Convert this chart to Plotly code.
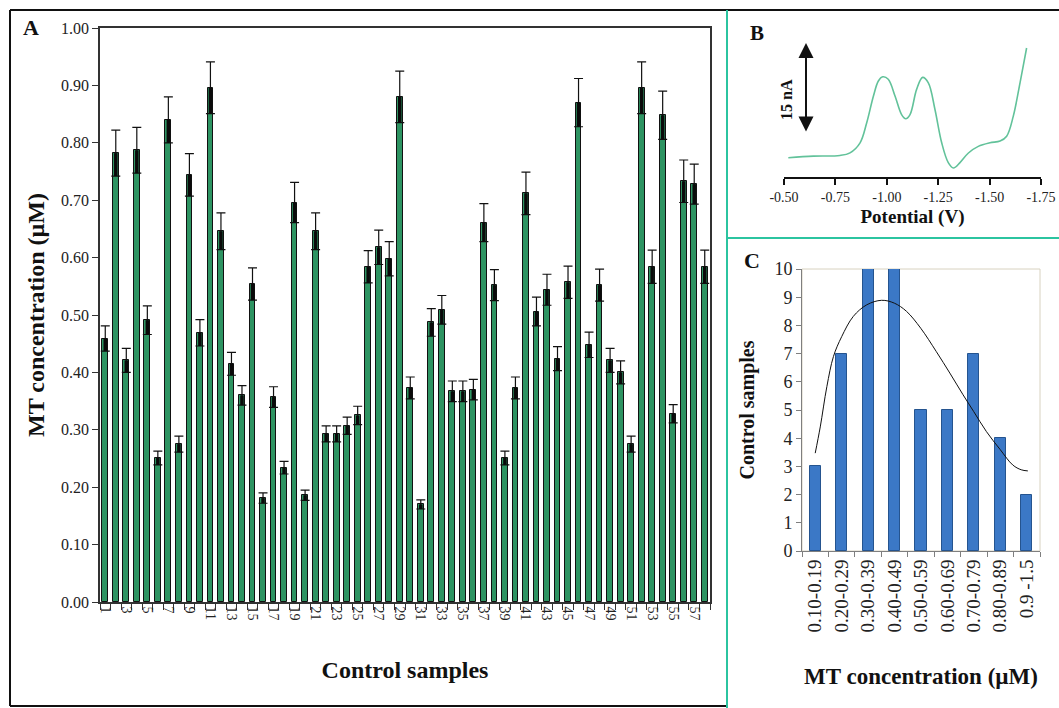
import plotly.graph_objects as go

# ---------------- Panel A data ----------------
sample_ids = list(range(1, 59))
mt_values = [0.459, 0.782, 0.421, 0.787, 0.491, 0.251, 0.840, 0.275, 0.744, 0.469,
             0.896, 0.646, 0.415, 0.360, 0.554, 0.181, 0.357, 0.234, 0.696, 0.186,
             0.646, 0.293, 0.293, 0.307, 0.325, 0.584, 0.618, 0.598, 0.880, 0.373,
             0.170, 0.487, 0.509, 0.367, 0.367, 0.370, 0.661, 0.552, 0.251, 0.373,
             0.712, 0.506, 0.544, 0.424, 0.557, 0.870, 0.448, 0.552, 0.421, 0.400,
             0.275, 0.896, 0.584, 0.848, 0.328, 0.733, 0.728, 0.584]
mt_errors = [0.022, 0.040, 0.021, 0.040, 0.025, 0.012, 0.040, 0.014, 0.037, 0.023,
             0.045, 0.032, 0.020, 0.017, 0.028, 0.009, 0.018, 0.011, 0.035, 0.009,
             0.032, 0.014, 0.014, 0.015, 0.016, 0.028, 0.030, 0.030, 0.045, 0.019,
             0.008, 0.024, 0.025, 0.018, 0.018, 0.018, 0.033, 0.027, 0.012, 0.019,
             0.037, 0.025, 0.027, 0.021, 0.028, 0.042, 0.022, 0.028, 0.021, 0.020,
             0.014, 0.045, 0.029, 0.042, 0.016, 0.037, 0.035, 0.029]
a_yticks = [0.0, 0.1, 0.2, 0.3, 0.4, 0.5, 0.6, 0.7, 0.8, 0.9, 1.0]

# ---------------- Panel B data (DPV curve) ----------------
potential = [-0.521, -0.643, -0.772, -0.821, -0.870, -0.902, -0.935, -0.959, -0.980,
             -1.007, -1.040, -1.072, -1.092, -1.113, -1.145, -1.174, -1.202, -1.234,
             -1.267, -1.299, -1.324, -1.356, -1.397, -1.445, -1.502, -1.551, -1.583,
             -1.615, -1.648, -1.680]
current_na = [0.0, 0.28, 0.39, 0.83, 2.5, 5.8, 10.3, 12.8, 13.5,
              13.1, 10.3, 7.2, 6.5, 7.2, 11.4, 13.4, 12.5, 8.1,
              2.5, -0.8, -1.7, -0.8, 0.8, 1.9, 2.5, 2.8, 3.6,
              6.9, 12.5, 18.3]
b_xticks = [-0.50, -0.75, -1.00, -1.25, -1.50, -1.75]
b_xticklabels = ["-0.50", "-0.75", "-1.00", "-1.25", "-1.50", "-1.75"]

# ---------------- Panel C data (histogram) ----------------
c_bins = ["0.10-0.19", "0.20-0.29", "0.30-0.39", "0.40-0.49", "0.50-0.59",
          "0.60-0.69", "0.70-0.79", "0.80-0.89", "0.9 -1.5"]
c_counts = [3, 7, 10, 10, 5, 5, 7, 4, 2]
fit_x = [0.0, 0.19, 0.44, 0.69, 1.0, 1.44, 1.95, 2.51, 2.99, 3.45, 3.99, 4.58,
         5.09, 5.59, 5.99, 6.47, 7.0, 7.47, 7.79, 8.04]
fit_y = [3.47, 4.4, 5.83, 6.9, 7.6, 8.32, 8.73, 8.89, 8.79, 8.5, 7.9, 7.07,
         6.31, 5.54, 4.95, 4.24, 3.59, 3.05, 2.88, 2.84]

SERIF = "Liberation Serif, Times New Roman, serif"
W, H = 1059, 708


def px_x(p):
    return p / W


def px_y(p):
    return 1 - p / H


fig = go.Figure()

fig.add_trace(go.Bar(
    x=sample_ids, y=mt_values, width=0.55,
    marker=dict(color="#2e9462", line=dict(color="#111111", width=1)),
    error_y=dict(type="data", symmetric=False, array=mt_errors,
                 arrayminus=mt_errors, color="#111111", thickness=1.2, width=4.5),
    xaxis="x", yaxis="y", showlegend=False,
))
fig.add_trace(go.Scatter(
    x=sample_ids, y=mt_values, mode="markers",
    marker=dict(size=1, color="rgba(0,0,0,0)"),
    error_y=dict(type="data", symmetric=False, array=[0] * len(mt_values),
                 arrayminus=mt_errors, color="#0a0a0a", thickness=3.5, width=0),
    xaxis="x", yaxis="y", showlegend=False, hoverinfo="skip",
))

fig.add_trace(go.Scatter(
    x=potential, y=current_na, mode="lines", line=dict(color="#62c29a", width=1.6, shape="spline", smoothing=1.0),
    xaxis="x2", yaxis="y2", showlegend=False,
))

fig.add_trace(go.Bar(
    x=list(range(len(c_bins))), y=c_counts, width=0.42,
    marker=dict(color="#3b78c6", line=dict(color="#25548f", width=1)),
    xaxis="x3", yaxis="y3", showlegend=False,
))
fig.add_trace(go.Scatter(
    x=fit_x, y=fit_y, mode="lines", line=dict(color="#111111", width=1, shape="spline"),
    xaxis="x3", yaxis="y3", showlegend=False,
))

fig.update_layout(
    width=W, height=H, margin=dict(l=0, r=0, t=0, b=0, autoexpand=False),
    paper_bgcolor="white", plot_bgcolor="white",
    bargap=0,
    xaxis=dict(
        domain=[px_x(100), px_x(710)], range=[0.5, 58.5], automargin=False,
        tickmode="linear", tick0=1, dtick=2, ticks="", tickangle=90,
        tickfont=dict(family=SERIF, size=14, color="#222222"),
        showline=True, linecolor="#333333", linewidth=1.5, mirror=True,
        showgrid=False, zeroline=False, anchor="y",
        minor=dict(tick0=0.5, dtick=1, ticks="outside", ticklen=6, tickcolor="#333333", tickwidth=1),
        title=dict(text="<b>Control samples</b>", font=dict(family=SERIF, size=24, color="#111111"), standoff=42),
    ),
    yaxis=dict(
        domain=[px_y(602), px_y(28)], range=[0, 1.0], automargin=False,
        tickvals=a_yticks, tickformat=".2f", ticks="outside", ticklen=6, tickcolor="#333333",
        tickfont=dict(family=SERIF, size=16, color="#222222"),
        showline=True, linecolor="#333333", linewidth=1.5, mirror=True,
        showgrid=False, zeroline=False, anchor="x",
        title=dict(text="<b>MT concentration (µM)</b>", font=dict(family=SERIF, size=24, color="#111111"), standoff=10),
    ),
    xaxis2=dict(
        domain=[px_x(784), px_x(1041)], range=[-0.5, -1.75], automargin=False,
        tickvals=b_xticks, ticktext=b_xticklabels, ticks="outside", ticklen=6, tickwidth=1.5, tickcolor="#111111",
        tickfont=dict(family=SERIF, size=14, color="#222222"),
        showline=True, linecolor="#111111", linewidth=1.8, showgrid=False, zeroline=False, anchor="y2",
        title=dict(text="<b>Potential (V)</b>", font=dict(family=SERIF, size=19, color="#111111"), standoff=6),
    ),
    yaxis2=dict(
        domain=[px_y(177), px_y(30)], range=[-3.2, 21.3], visible=False, anchor="x2", automargin=False,
    ),
    xaxis3=dict(
        domain=[px_x(802), px_x(1040)], range=[-0.5, 8.5], automargin=False,
        tickvals=list(range(len(c_bins))), ticktext=c_bins, ticks="", tickangle=-90,
        tickfont=dict(family=SERIF, size=19, color="#222222"),
        showline=True, linecolor="#7f7f7f", linewidth=1, showgrid=False, zeroline=False, anchor="y3",
        minor=dict(tick0=0.5, dtick=1, ticks="outside", ticklen=5, tickcolor="#7f7f7f", tickwidth=1),
        title=dict(text="<b>MT concentration (µM)</b>", font=dict(family=SERIF, size=23, color="#111111"), standoff=36),
    ),
    yaxis3=dict(
        domain=[px_y(551), px_y(269)], range=[0, 10], dtick=1, ticks="outside", ticklen=5, tickcolor="#7f7f7f",
        automargin=False,
        tickfont=dict(family=SERIF, size=18, color="#222222"),
        showline=True, linecolor="#7f7f7f", linewidth=1, showgrid=False, zeroline=False, anchor="x3",
        title=dict(text="<b>Control samples</b>", font=dict(family=SERIF, size=20, color="#111111"), standoff=14),
    ),
)

shapes = [
    dict(type="line", xref="paper", yref="paper", x0=px_x(10), x1=1, y0=px_y(10), y1=px_y(10),
         line=dict(color="#111111", width=2)),
    dict(type="line", xref="paper", yref="paper", x0=px_x(10), x1=px_x(10), y0=px_y(10), y1=px_y(706),
         line=dict(color="#111111", width=2)),
    dict(type="line", xref="paper", yref="paper", x0=px_x(10), x1=px_x(727), y0=px_y(706), y1=px_y(706),
         line=dict(color="#111111", width=2)),
    dict(type="line", xref="paper", yref="paper", x0=px_x(727), x1=px_x(727), y0=px_y(10), y1=0,
         line=dict(color="#2bc4a0", width=2)),
    dict(type="line", xref="paper", yref="paper", x0=px_x(727), x1=1, y0=px_y(238), y1=px_y(238),
         line=dict(color="#2bc4a0", width=2)),
    dict(type="rect", xref="x3 domain", yref="y3 domain", x0=0, x1=1, y0=0, y1=1,
         line=dict(color="#d8d2c0", width=1), layer="below"),
]
fig.update_layout(shapes=shapes)

annotations = [
    dict(text="<b>A</b>", x=px_x(31), y=px_y(28), xref="paper", yref="paper", showarrow=False,
         xanchor="center", yanchor="middle", font=dict(family=SERIF, size=22, color="#111111")),
    dict(text="<b>B</b>", x=px_x(757), y=px_y(33), xref="paper", yref="paper", showarrow=False,
         xanchor="center", yanchor="middle", font=dict(family=SERIF, size=21, color="#111111")),
    dict(text="<b>C</b>", x=px_x(752), y=px_y(260), xref="paper", yref="paper", showarrow=False,
         xanchor="center", yanchor="middle", font=dict(family=SERIF, size=22, color="#111111")),
    dict(text="<b>15 nA</b>", x=px_x(786), y=px_y(100), xref="paper", yref="paper", showarrow=False,
         xanchor="center", yanchor="middle",
         textangle=-90, font=dict(family=SERIF, size=16, color="#111111")),
    dict(x=px_x(806), y=px_y(43), ax=0, ay=90, xref="paper", yref="paper",
         axref="pixel", ayref="pixel", showarrow=True, arrowhead=2, arrowside="end+start",
         arrowsize=1.5, arrowwidth=2, arrowcolor="#111111", text=""),
]
fig.update_layout(annotations=annotations)

fig.write_html("out.html")
